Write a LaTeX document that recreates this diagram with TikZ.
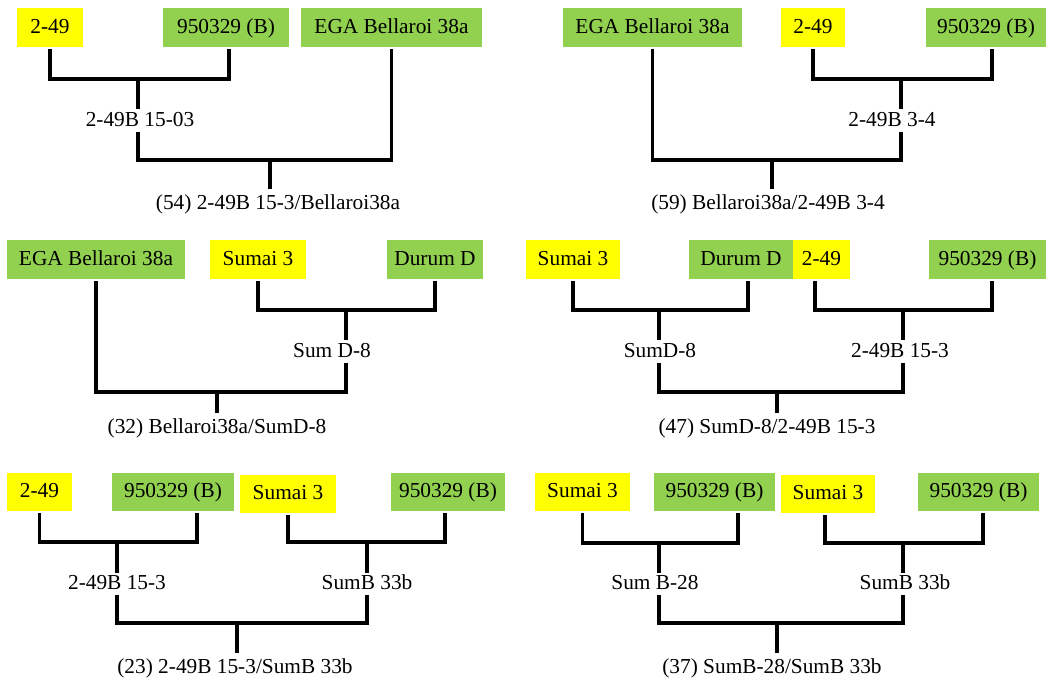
\documentclass[tikz,border=0pt]{standalone}
\usepackage{fontspec}
\setmainfont{Liberation Serif}
\usetikzlibrary{calc}
\definecolor{ylw}{HTML}{FFFF00}
\definecolor{grn}{HTML}{92D050}
\tikzset{
  box/.style={fill=#1, draw=none, inner sep=0pt, text height=11.5pt, text depth=3pt, align=center},
  lbl/.style={fill=white, inner xsep=1pt, inner ysep=1pt, text height=11.5pt, text depth=3pt},
  res/.style={anchor=north, inner xsep=1pt, inner ysep=3.5pt, text height=11.5pt, text depth=3pt},
  conn/.style={line width=2.4pt, black, shorten <=1.5pt},
  stem/.style={line width=2.4pt, black}
}
% name, x1, y1, x2, y2, colour, text
\newcommand\pbox[7]{\node[box=#6, minimum width={(#4-#2)*0.75pt}, minimum height={(#5-#3)*0.75pt}] (#1) at ({(#2+#4)/2},{(#3+#5)/2}) {#7};}
\begin{document}
\begin{tikzpicture}[x=0.75pt, y=-0.75pt, font=\fontsize{16}{18}\selectfont]
\useasboundingbox (0,0) rectangle (1060,679);

% ---------------- Panel 1 ----------------
\pbox{a1}{17}{8}{83}{47}{ylw}{2-49}
\pbox{b1}{163}{8}{289}{47}{grn}{950329 (B)}
\pbox{c1}{301}{8}{482}{47}{grn}{EGA Bellaroi 38a}
\coordinate (j11) at (138,79);
\coordinate (j12) at (270,160);
\node[lbl] (m1) at (140,120.5) {2-49B 15-03};
\node[res] (r1) at (278,189) {(54) 2-49B 15-3/Bellaroi38a};
\draw[conn] (a1.south) |- (j11);
\draw[conn] ($(b1.south)+(3,0)$) |- (j11);
\draw[stem] (j11) -- (j11 |- m1.north);
\draw[stem] (j11 |- m1.south) |- (j12);
\draw[conn] (c1.south) |- (j12);
\draw[stem] (j12) -- (j12 |- r1.north);

% ---------------- Panel 2 ----------------
\pbox{a2}{563}{8}{742}{47}{grn}{EGA Bellaroi 38a}
\pbox{b2}{781}{8}{845}{47}{ylw}{2-49}
\pbox{c2}{926}{8}{1046}{47}{grn}{950329 (B)}
\coordinate (j21) at (901,79);
\coordinate (j22) at (772,160);
\node[lbl] (m2) at (892,120.5) {2-49B 3-4};
\node[res] (r2) at (768,189) {(59) Bellaroi38a/2-49B 3-4};
\draw[conn] (b2.south) |- (j21);
\draw[conn] ($(c2.south)+(6,0)$) |- (j21);
\draw[stem] (j21) -- (j21 |- m2.north);
\draw[stem] (j21 |- m2.south) |- (j22);
\draw[conn] (a2.south) |- (j22);
\draw[stem] (j22) -- (j22 |- r2.north);

% ---------------- Panel 3 ----------------
\pbox{a3}{7}{240}{185}{279}{grn}{EGA Bellaroi 38a}
\pbox{b3}{210}{240}{306}{279}{ylw}{Sumai 3}
\pbox{c3}{387}{240}{483}{279}{grn}{Durum D}
\coordinate (j31) at (346,310);
\coordinate (j32) at (217,392);
\node[lbl] (m3) at (332,351.5) {Sum D-8};
\node[res] (r3) at (217,413) {(32) Bellaroi38a/SumD-8};
\draw[conn] (b3.south) |- (j31);
\draw[conn] (c3.south) |- (j31);
\draw[stem] (j31) -- (j31 |- m3.north);
\draw[stem] (j31 |- m3.south) |- (j32);
\draw[conn] (a3.south) |- (j32);
\draw[stem] (j32) -- (j32 |- r3.north);

% ---------------- Panel 4 ----------------
\pbox{a4}{526}{240}{620}{279}{ylw}{Sumai 3}
\pbox{b4}{689}{240}{793}{279}{grn}{Durum D}
\pbox{c4}{793}{240}{850}{279}{ylw}{2-49}
\pbox{d4}{929}{240}{1046}{279}{grn}{950329 (B)}
\coordinate (j41) at (659,310);
\coordinate (j42) at (903,310);
\coordinate (j43) at (777,392);
\node[lbl] (m41) at (660,351.5) {SumD-8};
\node[lbl] (m42) at (900,351.5) {2-49B 15-3};
\node[res] (r4) at (767,413) {(47) SumD-8/2-49B 15-3};
\draw[conn] (a4.south) |- (j41);
\draw[conn] ($(b4.south)+(7,0)$) |- (j41);
\draw[conn] ($(c4.south)+(-6.5,0)$) |- (j42);
\draw[conn] ($(d4.south)+(4.5,0)$) |- (j42);
\draw[stem] (j41) -- (j41 |- m41.north);
\draw[stem] (j42) -- (j42 |- m42.north);
\draw[stem] (j41 |- m41.south) |- (j43);
\draw[stem] (j42 |- m42.south) |- (j43);
\draw[stem] (j43) -- (j43 |- r4.north);

% ---------------- Panel 5 ----------------
\pbox{a5}{7}{473}{72}{511}{ylw}{2-49}
\pbox{b5}{112}{473}{234}{511}{grn}{950329 (B)}
\pbox{c5}{240}{475}{336}{513}{ylw}{Sumai 3}
\pbox{d5}{391}{473}{505}{511}{grn}{950329 (B)}
\coordinate (j51) at (117,542);
\coordinate (j52) at (367,542);
\coordinate (j53) at (237,623);
\node[lbl] (m51) at (117,584) {2-49B 15-3};
\node[lbl] (m52) at (367,584) {SumB 33b};
\node[res] (r5) at (235,653) {(23) 2-49B 15-3/SumB 33b};
\draw[conn] (a5.south) |- (j51);
\draw[conn] ($(b5.south)+(24,0)$) |- (j51);
\draw[conn] (c5.south) |- (j52);
\draw[conn] ($(d5.south)+(-3,0)$) |- (j52);
\draw[stem] (j51) -- (j51 |- m51.north);
\draw[stem] (j52) -- (j52 |- m52.north);
\draw[stem] (j51 |- m51.south) |- (j53);
\draw[stem] (j52 |- m52.south) |- (j53);
\draw[stem] (j53) -- (j53 |- r5.north);

% ---------------- Panel 6 ----------------
\pbox{a6}{535}{473}{630}{511}{ylw}{Sumai 3}
\pbox{b6}{654}{473}{775}{511}{grn}{950329 (B)}
\pbox{c6}{781}{475}{875}{513}{ylw}{Sumai 3}
\pbox{d6}{918}{473}{1039}{511}{grn}{950329 (B)}
\coordinate (j61) at (659,543);
\coordinate (j62) at (903,543);
\coordinate (j63) at (777,623);
\node[lbl] (m61) at (655,584) {Sum B-28};
\node[lbl] (m62) at (905,584) {SumB 33b};
\node[res] (r6) at (772,653) {(37) SumB-28/SumB 33b};
\draw[conn] (a6.south) |- (j61);
\draw[conn] ($(b6.south)+(23.5,0)$) |- (j61);
\draw[conn] ($(c6.south)+(-3,0)$) |- (j62);
\draw[conn] ($(d6.south)+(4.5,0)$) |- (j62);
\draw[stem] (j61) -- (j61 |- m61.north);
\draw[stem] (j62) -- (j62 |- m62.north);
\draw[stem] (j61 |- m61.south) |- (j63);
\draw[stem] (j62 |- m62.south) |- (j63);
\draw[stem] (j63) -- (j63 |- r6.north);
\end{tikzpicture}
\end{document}
